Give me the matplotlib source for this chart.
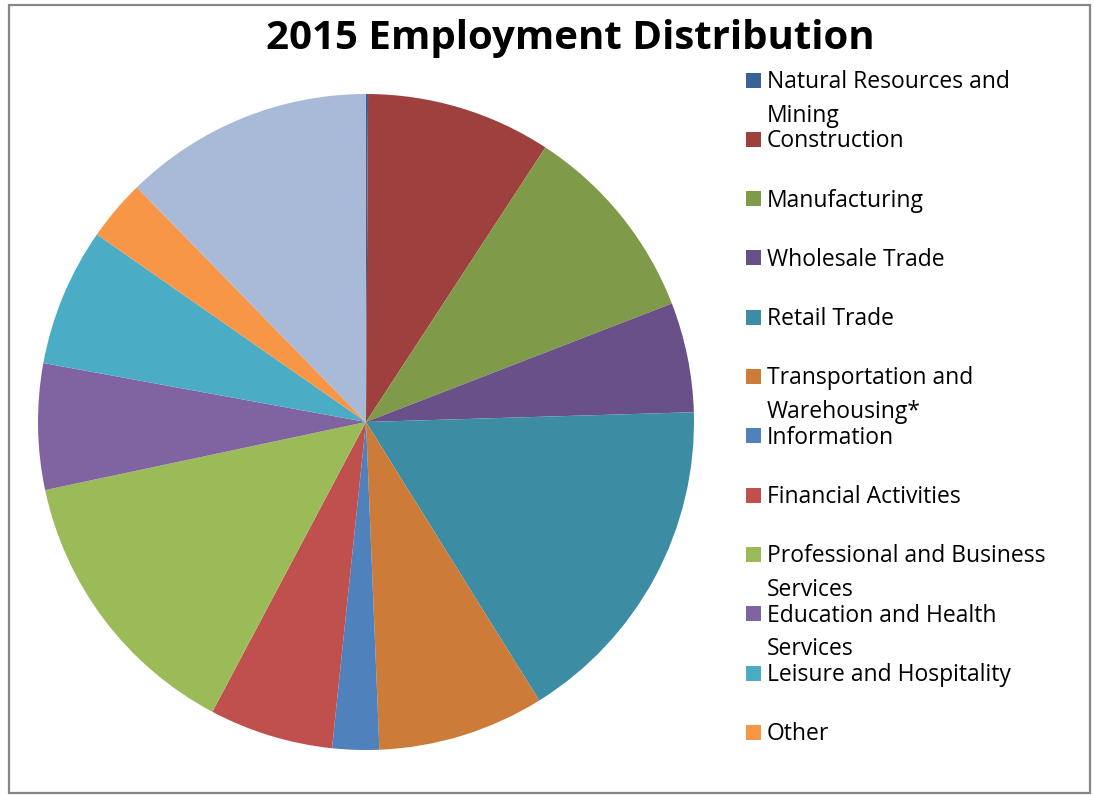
import textwrap

import matplotlib
matplotlib.use('Agg')
import matplotlib.pyplot as plt
from matplotlib.patches import Rectangle

W, H = 1094, 795

sectors = ['Natural Resources and Mining', 'Construction', 'Manufacturing',
           'Wholesale Trade', 'Retail Trade', 'Transportation and Warehousing*',
           'Information', 'Financial Activities',
           'Professional and Business Services',
           'Education and Health Services', 'Leisure and Hospitality',
           'Other', 'Government']
shares = [0.1, 9.1, 9.9, 5.4, 16.6, 8.2, 2.3, 6.1, 13.9, 6.2, 6.8, 3.0, 12.3]
colors = ['#3B6296', '#9E403D', '#7F9A48', '#6A5088', '#3C8DA3', '#CC7B38',
          '#4F81BD', '#C0504D', '#9BBB59', '#8064A2', '#4BACC6', '#F79646',
          '#A9B9D8']
# the legend in the original is cut off after "Other"
legend_count = 12

plt.rcParams['font.family'] = ['Open Sans', 'DejaVu Sans']

fig = plt.figure(figsize=(W / 100, H / 100), dpi=100)


def px(x, y):
    return x / W, 1 - y / H


# pie: centre (366, 422), radius 328 px
cx, cy, r = 366, 422, 328
ax = fig.add_axes([(cx - r) / W, (H - cy - r) / H, 2 * r / W, 2 * r / H])
ax.pie(shares, colors=colors, startangle=90, counterclock=False,
       radius=1, wedgeprops={'linewidth': 0})
ax.set_xlim(-1, 1)
ax.set_ylim(-1, 1)
ax.axis('off')

# chart border
fig.patches.append(Rectangle(px(9, 793), (1090 - 9) / W, (793 - 5) / H,
                             transform=fig.transFigure, fill=False,
                             edgecolor='#868686', linewidth=1.6))

fig.text(*px(570, 49), '2015 Employment Distribution', ha='center',
         va='baseline', fontsize=29, fontweight='bold')

# legend drawn by hand to mimic the spreadsheet layout
for i in range(legend_count):
    base = 88 + i * 59.3
    fig.patches.append(Rectangle(px(746, base - 0.5), 15 / W, 15 / H,
                                 transform=fig.transFigure,
                                 facecolor=colors[i], edgecolor='none'))
    for j, line in enumerate(textwrap.wrap(sectors[i], 25)):
        fig.text(*px(767, base + j * 33.5), line, ha='left', va='baseline',
                 fontsize=16.5, color='black')

fig.savefig('out.png', dpi=100)
